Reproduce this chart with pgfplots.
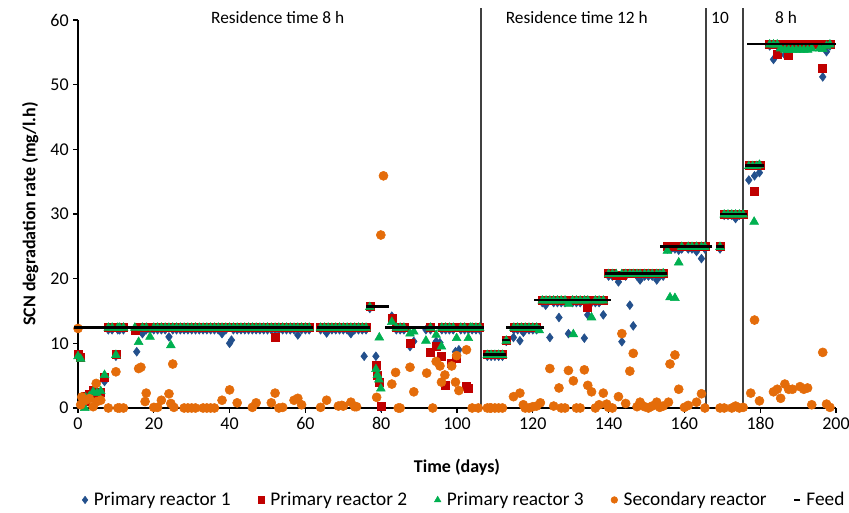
\documentclass[border=0pt]{standalone}
\usepackage{fontspec}
\setmainfont{Carlito}
\usepackage{pgfplots}
\usepackage{pgfplotstable}
\pgfplotsset{compat=1.18}
\definecolor{rA}{RGB}{35,80,140}
\definecolor{rB}{RGB}{192,0,0}
\definecolor{rC}{RGB}{0,176,80}
\definecolor{rS}{RGB}{228,108,10}
\definecolor{vl}{RGB}{64,64,64}
\pgfplotsset{single mark legend/.style={legend image code/.code={\draw[##1] plot coordinates {(0pt,0pt)};}}}
\pgfplotstableread{
x F A B C S
0 12.5 8.0 8.3 8.0 12.3
0.7 nan nan 7.8 7.6 0.5
1 12.5 nan nan nan 1.7
1.8 nan nan 1.0 0.0 nan
2 12.5 1.5 1.8 1.6 1.2
3 12.5 2.0 2.2 1.8 1.45
4 12.5 2.5 2.8 2.5 0.2
4.8 nan nan nan nan 3.8
5 12.5 2.0 2.2 2.3 1.0
6 12.5 2.5 2.4 2.6 1.2
7 12.5 4.1 4.8 5.1 nan
8 12.5 12.1 12.5 12.4 0
9 12.5 12.1 12.5 12.4 nan
10 12.5 8.0 8.3 8.2 5.6
10.5 nan 12.1 12.5 12.4 0
11 12.5 12.1 12.5 12.4 0
12 12.5 12.1 12.5 12.4 0
12.8 12.5 nan nan nan nan
15 12.5 12.1 12.0 12.4 nan
15.5 nan 8.7 nan nan nan
16 12.5 12.1 12.5 10.2 6.1
16.6 nan nan nan nan 6.3
17 12.5 11.5 12.5 12.4 nan
17.7 nan nan nan nan 1.0
18 12.5 12.1 12.5 12.4 2.3
19 12.5 12.1 12.5 11.0 nan
20 12.5 12.1 12.5 12.4 0.1
21 12.5 12.1 12.5 12.4 0.1
22 12.5 12.1 12.5 12.4 1.2
23 12.5 12.1 12.5 12.4 nan
24 12.5 11.0 12.5 12.4 2.2
24.5 nan nan nan 9.7 0.7
25 12.5 12.1 12.5 12.4 6.8
25.3 nan nan nan nan 0.1
26 12.5 12.1 12.5 12.4 nan
27 12.5 12.1 12.5 12.4 nan
28 12.5 12.1 12.5 12.4 0
29 12.5 12.1 12.5 12.4 0
30 12.5 12.1 12.5 12.4 0
31 12.5 12.1 12.5 12.4 0
32 12.5 12.1 12.5 12.4 nan
33 12.5 12.1 12.5 12.4 0
34 12.5 12.1 12.5 12.4 0
35 12.5 12.1 12.5 12.4 0
36 12.5 12.1 12.5 12.4 0
37 12.5 12.1 12.5 12.4 nan
38 12.5 11.5 12.5 12.4 1.2
39 12.5 12.1 12.5 12.4 nan
40 12.5 10.0 12.5 12.4 2.8
40.5 nan 10.5 nan nan nan
41 12.5 12.1 12.5 12.4 nan
42 12.5 12.1 12.5 12.4 0.8
43 12.5 12.1 12.5 12.4 nan
44 12.5 12.1 12.5 12.4 nan
45 12.5 12.1 12.5 12.4 nan
46 12.5 12.1 12.5 12.4 0.1
47 12.5 12.1 12.5 12.4 0.8
48 12.5 12.1 12.5 12.4 nan
49 12.5 12.1 12.5 12.4 nan
50 12.5 12.1 12.5 12.4 nan
51 12.5 12.1 12.5 12.4 0.8
52 12.5 12.1 11.0 12.4 2.3
53 12.5 12.1 12.5 12.4 0
54 12.5 12.1 12.5 12.4 0.1
55 12.5 12.1 12.5 12.4 nan
56 12.5 12.1 12.5 12.4 nan
57 12.5 12.1 12.5 12.4 1.2
58 12.5 11.3 12.5 12.4 1.5
59 12.5 12.1 12.5 12.4 0.5
60 12.5 12.1 12.5 12.4 nan
61 12.5 12.1 12.5 12.4 nan
64 12.5 12.1 12.5 12.4 0.1
65 12.5 12.1 12.5 12.4 nan
65.6 nan 11.6 nan nan 1.2
66 12.5 12.1 12.5 12.4 nan
67 12.5 12.1 12.5 12.4 nan
68 12.5 12.1 12.5 12.4 nan
68.7 nan nan nan nan 0.3
69 12.5 12.1 12.5 12.4 nan
69.6 nan nan nan nan 0.4
70 12.5 12.1 12.5 12.4 0.3
71 12.5 12.1 12.5 12.4 nan
72 12.5 11.5 12.5 12.4 0.9
73 12.5 12.1 12.5 12.4 0.2
73.5 nan nan nan nan 0.2
74 12.5 12.1 12.5 12.4 nan
75 12.5 12.1 12.5 12.4 nan
75.5 nan 8.0 nan nan nan
76 12.5 12.1 12.5 12.4 nan
77 15.7 15.4 15.7 15.6 nan
78 15.7 nan nan nan nan
78.6 nan 8.0 6.6 6.0 nan
78.8 nan nan nan nan 1.65
79 15.7 5.6 5.0 5.1 nan
79.4 nan nan 4.0 4.4 nan
79.5 nan nan nan 10.9 nan
79.9 nan 0.1 0.2 3.0 26.75
80 15.7 nan nan nan nan
80.6 nan nan nan nan 35.9
81 15.7 nan nan nan nan
82 12.5 nan nan nan nan
82.8 nan 14.2 13.8 13.3 3.7
83 12.5 nan nan nan nan
83.8 nan nan nan nan 5.5
84 12.5 12.1 12.5 12.4 nan
84.5 nan nan nan nan 0
85 12.5 12.1 12.5 12.4 0
86 12.5 12.1 12.5 12.4 nan
87 12.5 nan nan nan nan
87.6 nan 9.5 10.0 11.5 6.3
88 12.5 nan nan nan nan
88.6 nan 10.3 nan 11.8 2.5
89 12.5 nan nan nan nan
91 12.5 nan nan nan nan
91.8 nan 12.1 nan 10.4 nan
92 12.5 nan nan nan 5.4
92.9 nan nan 8.6 nan nan
93 12.5 12.1 12.5 12.4 nan
93.6 nan nan nan nan 0
94 12.5 nan nan nan nan
94.5 nan 10.3 9.5 11.3 7.2
95 12.5 nan nan nan nan
95.5 nan 10.1 nan nan 6.5
95.9 nan nan 8.0 9.5 4.0
96 12.5 12.1 12.5 12.4 nan
96.8 nan nan 3.55 nan 5.1
97 12.5 12.1 12.5 12.4 nan
98 12.5 12.1 12.5 12.4 nan
98.6 nan nan 6.9 nan 6.5
99 12.5 12.1 12.5 12.4 nan
99.6 nan 8.7 nan nan 4.0
99.9 nan 8.5 7.7 10.8 8.1
100 12.5 nan nan nan nan
100.5 nan 9.0 nan nan 2.7
101 12.5 12.1 12.5 12.4 nan
102 12.5 12.1 12.5 12.4 nan
102.5 nan nan 3.3 nan 9.0
103 12.5 12.1 3.0 10.8 nan
103.5 nan nan 12.5 12.4 nan
104 12.5 12.1 12.5 12.4 0
105 12.5 12.1 12.5 12.4 nan
105.6 nan nan nan nan 0
106 12.5 12.1 12.5 12.4 nan
108 8.3 8.0 8.3 8.2 0
108.7 nan nan nan nan 0
109 8.3 8.0 8.3 8.2 0
110 8.3 8.0 8.3 8.2 0
111 8.3 8.0 8.3 8.2 0
112 8.3 8.0 8.3 8.2 0
113 10.5 10.3 10.5 10.4 nan
114 12.5 nan nan nan nan
114.9 nan 10.9 nan nan 1.75
115 12.5 12.1 12.5 12.4 nan
116 12.5 12.1 12.5 12.4 nan
116.6 nan 10.4 nan nan 2.3
117 12.5 12.1 12.5 12.4 nan
117.5 nan 11.7 nan nan 0.5
118 12.5 12.1 12.5 12.4 0
119 12.5 12.1 12.5 12.4 0
120 12.5 12.1 12.5 12.4 0.2
121 12.5 12.1 12.5 12.4 0.3
121.5 16.7 nan nan nan nan
121.7 nan nan nan 12.0 nan
122 12.5 nan nan nan 0.8
122.5 16.7 16.3 16.7 16.6 nan
123.4 nan 15.9 nan nan nan
123.5 16.7 16.3 16.7 16.6 nan
124.5 16.7 10.9 16.7 16.6 6.1
125.5 16.7 16.3 16.7 16.6 0.3
126.5 16.7 16.3 16.7 16.6 nan
126.9 nan 14.0 nan nan 3.1
127.5 16.7 16.3 16.7 16.6 0
128.5 16.7 16.3 16.7 16.6 0
129.4 16.7 11.5 16.7 16.1 5.8
130.5 16.7 16.3 16.7 16.6 nan
130.7 nan nan nan 11.4 4.2
131.5 16.7 16.3 16.7 16.6 0
132.5 16.7 16.3 16.7 16.6 0
133.6 16.7 10.8 16.7 16.6 5.9
134.5 16.7 14.4 15.6 16.6 3.5
135.5 16.7 16.3 16.7 14.0 2.5
136.5 16.7 16.3 16.7 16.6 0
137.5 16.7 16.3 16.7 16.6 0.5
138.6 16.7 14.4 16.7 16.6 2.3
139.5 16.7 nan nan nan 0.6
140 20.8 20.4 20.8 20.7 0.1
141 20.8 20.4 20.8 20.7 0
142 20.8 20.4 20.5 20.7 nan
142.6 nan 19.5 nan nan 1.75
143.5 20.8 10.25 20.5 20.7 11.5
144.5 20.8 20.4 20.8 20.7 0.7
145.6 20.8 15.9 20.8 20.7 5.7
146.5 20.8 12.7 20.8 20.7 8.45
147.5 20.8 20.4 20.8 20.7 0.2
148.3 20.8 19.8 20.8 20.7 0.9
149.5 20.8 20.4 20.8 20.7 0.2
150.5 20.8 20.4 20.8 20.7 0
151.5 20.8 20.4 20.8 20.7 0.3
152.7 20.8 19.8 20.8 20.7 0.9
153.5 20.8 20.4 20.8 20.7 0.1
154.4 20.8 20.4 20.8 20.8 0.3
154.6 25 nan nan nan nan
155.5 25 24.6 25 24.3 nan
155.8 nan nan nan nan 0.9
156.2 nan nan nan 17.1 6.8
156.5 25 24.6 25 nan nan
157.5 25 24.6 25 17.0 8.2
158.5 25 24.4 25 22.5 2.9
159.3 25 24.6 25 24.9 nan
160 nan nan nan nan 0.1
161 25 24.6 25 24.9 0.4
162 25 24.6 25 24.9 nan
163.2 25 24.2 25 24.9 0.9
164.5 25 23.1 25 24.9 2.2
165.4 25 24.6 25 24.9 0
166.3 25 nan nan nan nan
169.4 25 24.6 25 24.9 0
170.5 30 29.8 30 29.9 0
171.5 30 29.8 30 29.9 nan
172.5 30 29.8 30 29.9 0
173.5 30 29.3 30 29.9 0.3
174.5 30 29.8 30 29.9 0
175.5 30 29.8 30 29.9 0.1
177 37.5 35.25 37.5 37.4 nan
177.5 56.3 nan nan nan 2.3
178 37.5 nan 37.5 37.4 nan
178.4 nan nan nan 28.8 nan
178.5 56.3 35.9 33.55 nan 13.6
179 37.5 nan 37.5 37.4 nan
179.5 56.3 nan nan nan nan
179.8 nan 36.4 nan 37.6 1.1
180 37.5 nan 37.5 nan nan
180.5 56.3 nan nan nan nan
182.5 56.3 56.0 56.3 56.2 nan
183.5 56.3 53.9 56.3 56.2 2.5
184.5 56.3 56.0 54.7 56.2 2.9
185.4 56.3 56.0 56.3 55.6 1.5
186.5 56.3 54.6 56.3 55.4 3.7
187.5 56.3 56.0 54.6 55.4 2.9
188.5 56.3 56.0 56.3 55.4 2.9
189.5 56.3 56.0 56.3 55.4 nan
190.5 56.3 56.0 56.3 55.4 3.3
191.5 56.3 56.0 56.3 55.4 2.9
192.5 56.3 56.0 56.3 55.4 3.1
193.6 56.3 56.0 56.3 55.6 0.5
195.7 56.3 56.0 56.3 55.6 nan
196.5 56.3 51.2 52.5 55.5 8.6
197.5 56.3 55.1 56.3 56.0 0.6
198.4 56.3 56.0 56.3 56.2 0.1
199 56.3 nan nan nan nan
}\data

\begin{document}
\begin{tikzpicture}
\begin{axis}[
  at={(0,0)}, anchor=south west,
  width=568.5pt, height=291pt, scale only axis,
  xmin=0, xmax=200, ymin=0, ymax=60,
  axis lines*=left,
  axis line style={black, line width=1.1pt},
  xtick={0,20,...,200}, ytick={0,10,...,60},
  tick align=outside, major tick length=3.5pt,
  tick style={black, line width=0.8pt},
  clip=false,
  /pgf/number format/assume math mode=true,
  ticklabel style={font=\fontsize{13.5}{16}\selectfont},
  xlabel={Time (days)},
  ylabel={SCN degradation rate (mg/l.h)},
  label style={font=\fontsize{13.5}{16}\selectfont\bfseries},
  xlabel style={at={(axis description cs:0.5,-0.152)}, anchor=center},
  ylabel style={at={(axis description cs:-0.063,0.5)}, anchor=center},
  legend style={draw=none, fill=none, at={(axis description cs:0,-0.237)}, anchor=west,
    legend columns=5, font=\fontsize{14.5}{17}\selectfont,
    /tikz/every odd column/.append style={column sep=2.5pt},
    /tikz/every even column/.append style={column sep=18.5pt}},
]
\draw[vl, line width=1.2pt] (axis cs:106.3,0) -- (axis cs:106.3,61.8);
\draw[vl, line width=1.2pt] (axis cs:165.7,0) -- (axis cs:165.7,61.8);
\draw[vl, line width=1.2pt] (axis cs:175.4,0) -- (axis cs:175.4,61.8);

\addplot[only marks, mark=diamond*, mark size=3.3pt, color=rA, mark options={fill=rA, draw=rA}, single mark legend, legend image post style={mark size=2.8pt}] table[x=x,y=A]{\data};
\addlegendentry{Primary reactor 1}
\addplot[only marks, mark=square*, mark size=3pt, color=rB, mark options={fill=rB, draw=rB}, single mark legend, legend image post style={mark size=2.4pt}] table[x=x,y=B]{\data};
\addlegendentry{Primary reactor 2}
\addplot[only marks, mark=triangle*, mark size=3.8pt, color=rC, mark options={fill=rC, draw=rC}, single mark legend, legend image post style={mark size=2.8pt}] table[x=x,y=C]{\data};
\addlegendentry{Primary reactor 3}
\addplot[only marks, mark=*, mark size=3.4pt, color=rS, mark options={fill=rS, draw=rS}, single mark legend, legend image post style={mark size=2.5pt}] table[x=x,y=S]{\data};
\addlegendentry{Secondary reactor}
\addplot[only marks, mark=-, mark size=3pt, color=black, mark options={line width=2.1pt}, single mark legend, legend image post style={mark size=2.4pt, mark options={line width=1.6pt}}] table[x=x,y=F]{\data};
\addlegendentry{Feed}

\node[font=\fontsize{13}{15}\selectfont] at (axis cs:52.7,60.35) {Residence time 8 h};
\node[font=\fontsize{13}{15}\selectfont] at (axis cs:131.6,60.35) {Residence time 12 h};
\node[font=\fontsize{13}{15}\selectfont] at (axis cs:169.4,60.35) {10};
\node[font=\fontsize{13}{15}\selectfont] at (axis cs:186.8,60.35) {8 h};
\end{axis}
\pgfresetboundingbox
\path[use as bounding box] (-58.5pt,-78.75pt) rectangle (578.25pt,306pt);
\end{tikzpicture}
\end{document}
